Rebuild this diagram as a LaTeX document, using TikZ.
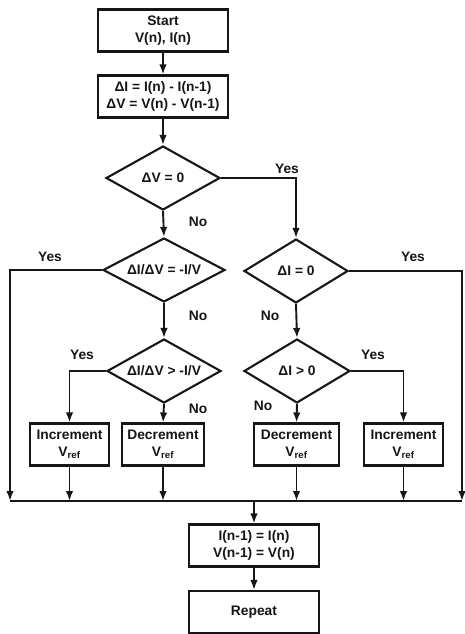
\documentclass[tikz,border=0pt]{standalone}
\usepackage{fontspec}
\setmainfont{Liberation Sans}
\usepackage{xcolor}
\usepackage{tikz}
\usetikzlibrary{arrows.meta,shapes.geometric}
\definecolor{fcInk}{HTML}{161616}
\tikzset{
  fc diagram/.style={font=\bfseries\fontsize{13.8}{16.5}\selectfont, text=fcInk,
    line join=miter},
  fc box/.style={draw=fcInk, fill=white, line width=2.1pt, align=center,
    inner sep=2pt, minimum height=42pt},
  fc test/.style={diamond, draw=fcInk, fill=white, line width=2.1pt,
    aspect=1.8, inner sep=0pt, minimum height=64pt},
  fc arrow/.style={-{Latex[length=10pt,width=7.5pt]}, draw=fcInk, line width=1.9pt},
  fc line/.style={draw=fcInk, line width=1.9pt},
  fc label/.style={inner sep=0pt}
}

\begin{document}
\begin{tikzpicture}[fc diagram,x=1pt,y=-1pt]
\useasboundingbox (0,0) rectangle (464,634);
% left and right chain of tests
\node[fc box, minimum width=130pt] (start) at (163,30.5) {Start\\V(n), I(n)};
\node[fc box, minimum width=130pt] (diff) at (163,96.5) {ΔI = I(n) - I(n-1)\\ΔV = V(n) - V(n-1)};
\node[fc test, minimum width=114pt] (t1) at (163,178) {ΔV = 0};
\node[fc test, minimum width=122pt] (t2) at (164,270) {ΔI/ΔV = -I/V};
\node[fc test, minimum width=114pt] (t3) at (164,371) {ΔI/ΔV > -I/V};
\node[fc test, minimum width=104pt] (t4) at (296,271) {ΔI = 0};
\node[fc test, minimum width=106pt] (t5) at (297,371) {ΔI > 0};
\node[fc box, minimum width=79pt] (inc1) at (69.5,444.5) {Increment\\V\textsubscript{ref}};
\node[fc box, minimum width=82pt] (dec1) at (163,444.5) {Decrement\\V\textsubscript{ref}};
\node[fc box, minimum width=85pt] (dec2) at (296.5,444.5) {Decrement\\V\textsubscript{ref}};
\node[fc box, minimum width=79pt] (inc2) at (403.5,444.5) {Increment\\V\textsubscript{ref}};
\node[fc box, minimum width=130pt] (upd) at (254,545.5) {I(n-1) = I(n)\\V(n-1) = V(n)};
\node[fc box, minimum width=130pt] (rep) at (254,612) {Repeat};
\coordinate (busL) at (10,501);
\coordinate (busR) at (462,501);

\draw[fc arrow] (start) -- (diff);
\draw[fc arrow] (diff) -- (t1);
\draw[fc arrow] (t1.east) -| (t4.north);
\draw[fc arrow] (t1.south) -- (t2.north);
\draw[fc arrow] (t2.west) -| (busL);
\draw[fc arrow] (t2.south) -- (t3.north);
\draw[fc arrow] (t3.west) -| (inc1.north);
\draw[fc arrow] (t3.south) -- (dec1.north);
\draw[fc arrow] (t4.east) -| (busR);
\draw[fc arrow] (t4.south) -- (t5.north);
\draw[fc arrow] (t5.east) -| (inc2.north);
\draw[fc arrow] (t5.south) -- (dec2.north);
\foreach \b in {inc1,dec1,dec2,inc2}
  \draw[fc arrow] (\b.south) -- (\b.south |- busL);
\draw[fc line] (busL) -- (busR);
\draw[fc arrow] (upd.north |- busL) -- (upd.north);
\draw[fc arrow] (upd) -- (rep);

\node[fc label] at (287,169) {Yes};
\node[fc label] at (198,222) {No};
\node[fc label] at (50,257) {Yes};
\node[fc label] at (198,316) {No};
\node[fc label] at (82,355) {Yes};
\node[fc label] at (198,409) {No};
\node[fc label] at (413,257) {Yes};
\node[fc label] at (270,316) {No};
\node[fc label] at (373,355) {Yes};
\node[fc label] at (263,406) {No};
\end{tikzpicture}
\end{document}
